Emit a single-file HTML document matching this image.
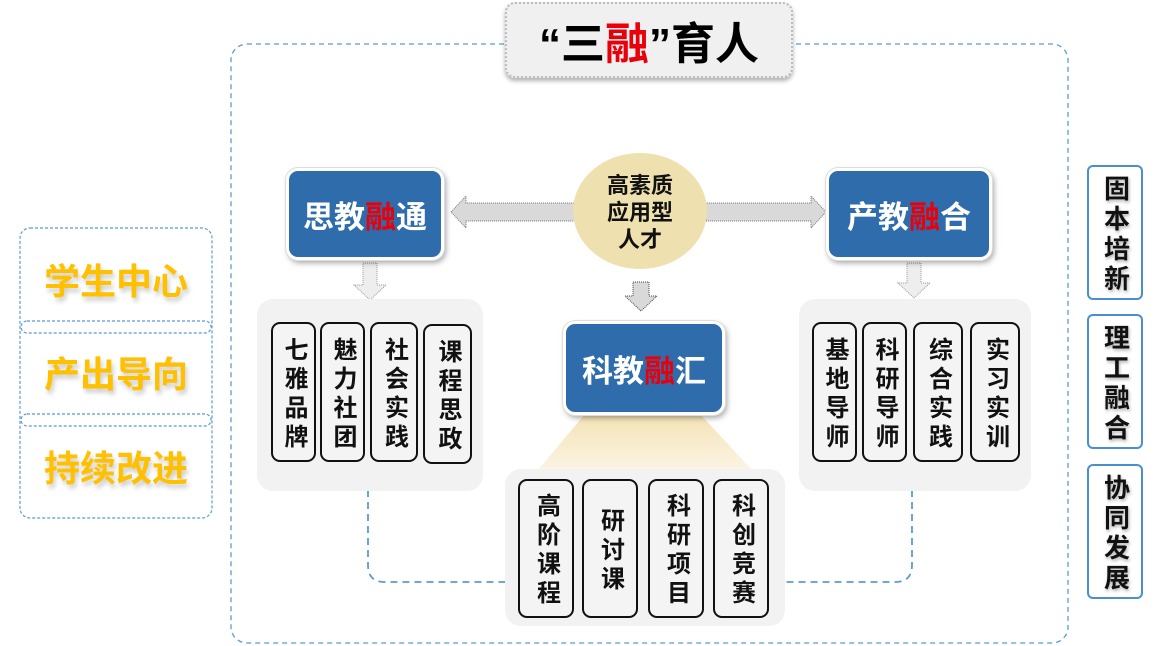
<!DOCTYPE html>
<html><head><meta charset="utf-8"><style>
*{margin:0;padding:0;box-sizing:border-box}
body{width:1164px;height:646px;background:#fff;position:relative;overflow:hidden;font-family:"Liberation Sans","Noto Sans CJK SC",sans-serif;font-weight:bold}
.a{position:absolute}
.blue{position:absolute;background:#2e6cac;border:3px solid #fff;border-radius:12px;box-shadow:0 0 0 1px #ddd,2px 3px 6px rgba(0,0,0,.35);color:#fff;font-size:31px;display:flex;align-items:center;justify-content:center;letter-spacing:0}
.r{color:#e8000b}
.panel{position:absolute;background:#f2f2f2;border-radius:16px}
.it{position:absolute;border:2px solid #111;border-radius:9px;background:#f4f4f4;display:flex;align-items:center;justify-content:center;font-size:24px;line-height:29px;text-align:center;color:#111;writing-mode:vertical-rl;letter-spacing:5px;padding-top:5px}
.side{position:absolute;left:1087px;width:56px;height:135px;border:2px solid #4a8fd0;border-radius:6px;font-size:26px;line-height:29px;display:flex;align-items:center;justify-content:center;writing-mode:vertical-rl;color:#111;letter-spacing:4px;padding-top:4px;text-shadow:1px 2px 3px rgba(0,0,0,.3)}
.lt{position:absolute;left:20px;width:192px;text-align:center;font-size:36px;color:#ffc000;text-shadow:2px 4px 5px rgba(0,0,0,.2)}
</style></head><body>
<svg class="a" style="left:0;top:0" width="1164" height="646">
<rect x="231" y="44" width="837" height="599" rx="16" fill="none" stroke="#5b9bd5" stroke-width="1.3" stroke-dasharray="5,4"/>
<rect x="20" y="228" width="192" height="290" rx="10" fill="none" stroke="#5b9bd5" stroke-width="1.2" stroke-dasharray="3,2"/>
<rect x="21" y="321" width="190" height="12" rx="6" fill="#fff" stroke="#5b9bd5" stroke-width="1.2" stroke-dasharray="3,2"/>
<rect x="21" y="414" width="190" height="12" rx="6" fill="#fff" stroke="#5b9bd5" stroke-width="1.2" stroke-dasharray="3,2"/>
<path d="M368 490 V565 Q368 582 385 582 H506" fill="none" stroke="#5b9bd5" stroke-width="1.8" stroke-dasharray="7,5"/>
<path d="M912 490 V565 Q912 582 895 582 H784" fill="none" stroke="#5b9bd5" stroke-width="1.8" stroke-dasharray="7,5"/>
<defs><linearGradient id="g" x1="0" y1="0" x2="0" y2="1"><stop offset="0" stop-color="#f5e3b5"/><stop offset="1" stop-color="#fbf4e4"/></linearGradient></defs>
<polygon points="585,414 700,414 752,470 538,470" fill="url(#g)"/>
<polygon points="451,212 466,196 466,203 575,203 575,221 466,221 466,228" fill="#d9d9d9" stroke="#777" stroke-width="1" stroke-dasharray="1,1"/>
<polygon points="826,212 811,196 811,203 706,203 706,221 811,221 811,228" fill="#d9d9d9" stroke="#777" stroke-width="1" stroke-dasharray="1,1"/>
<polygon points="633,282 649,282 649,296 657,296 641,311 625,296 633,296" fill="#d9d9d9" stroke="#444" stroke-width="1" stroke-dasharray="1,1"/>
<polygon points="363,263 377,263 377,285 386,285 370,300 354,285 363,285" fill="#eee" stroke="#999" stroke-width="1" stroke-dasharray="1,1"/>
<polygon points="907,263 921,263 921,283 930,283 914,298 898,283 907,283" fill="#eee" stroke="#999" stroke-width="1" stroke-dasharray="1,1"/>
<ellipse cx="640" cy="211" rx="67" ry="58" fill="#efe0b0"/>
</svg>
<div class="a" style="left:505px;top:2px;width:288px;height:76px;background:#f0f0f0;border:2px dotted #bbb;border-radius:10px;box-shadow:0 3px 4px rgba(0,0,0,.3);font-size:44px;display:flex;align-items:center;justify-content:center;color:#000">“三<span class="r">融</span>”育人</div>
<div class="a" style="left:573px;top:172px;width:134px;text-align:center;font-size:22px;line-height:27px;color:#111">高素质<br>应用型<br>人才</div>
<div class="blue" style="left:286px;top:168px;width:158px;height:92px">思教<span class="r">融</span>通</div>
<div class="blue" style="left:826px;top:168px;width:166px;height:92px">产教<span class="r">融</span>合</div>
<div class="blue" style="left:563px;top:321px;width:162px;height:94px">科教<span class="r">融</span>汇</div>
<div class="panel" style="left:257px;top:299px;width:226px;height:192px"></div>
<div class="it" style="left:271px;top:322px;width:45px;height:140px">七雅品牌</div>
<div class="it" style="left:320px;top:322px;width:45px;height:140px">魅力社团</div>
<div class="it" style="left:370px;top:322px;width:48px;height:140px">社会实践</div>
<div class="it" style="left:423px;top:324px;width:49px;height:140px">课程思政</div>
<div class="panel" style="left:799px;top:299px;width:232px;height:192px"></div>
<div class="it" style="left:812px;top:322px;width:45px;height:140px">基地导师</div>
<div class="it" style="left:862px;top:322px;width:45px;height:140px">科研导师</div>
<div class="it" style="left:913px;top:322px;width:50px;height:140px">综合实践</div>
<div class="it" style="left:970px;top:322px;width:50px;height:140px">实习实训</div>
<div class="panel" style="left:505px;top:469px;width:280px;height:157px"></div>
<div class="it" style="left:518px;top:479px;width:56px;height:139px">高阶课程</div>
<div class="it" style="left:582px;top:479px;width:56px;height:139px">研讨课</div>
<div class="it" style="left:648px;top:479px;width:56px;height:139px">科研项目</div>
<div class="it" style="left:713px;top:479px;width:56px;height:139px">科创竞赛</div>
<div class="lt" style="top:253px">学生中心</div>
<div class="lt" style="top:346px">产出导向</div>
<div class="lt" style="top:440px">持续改进</div>
<div class="side" style="top:165px">固本培新</div>
<div class="side" style="top:314px">理工融合</div>
<div class="side" style="top:464px">协同发展</div>
</body></html>
